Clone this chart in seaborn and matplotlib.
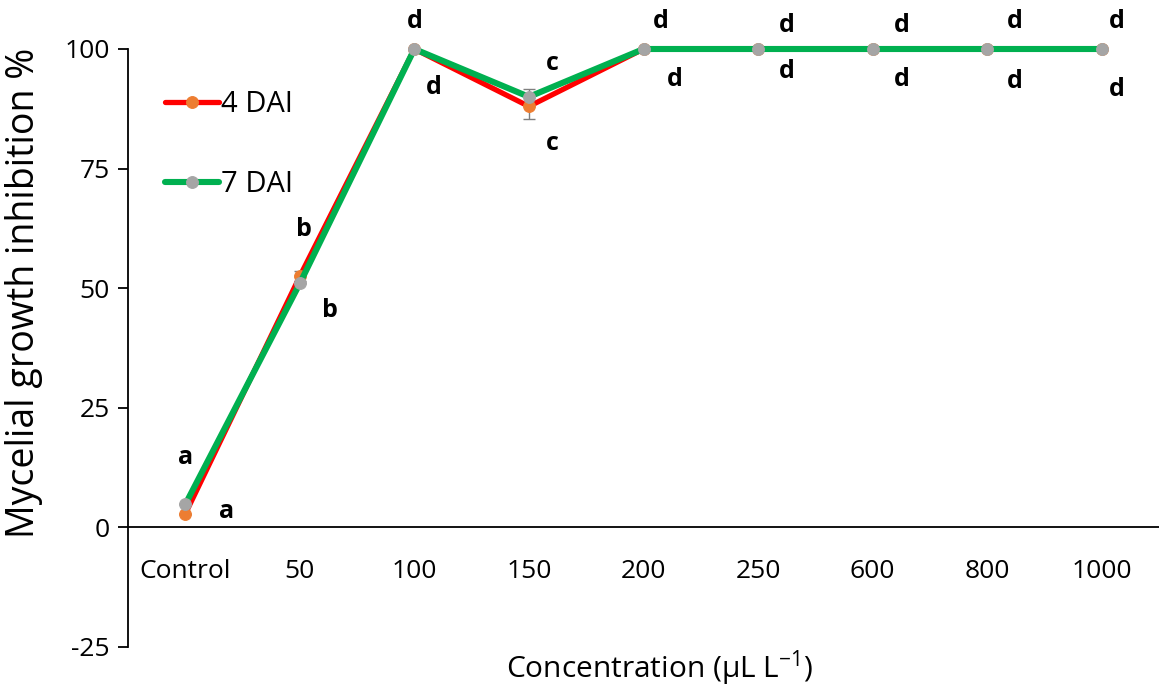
import pandas as pd
import matplotlib.pyplot as plt
import seaborn as sns
from matplotlib.ticker import FixedLocator, NullFormatter

# data
concentrations = ['Control', '50', '100', '150', '200', '250', '600', '800', '1000']
dai4 = [2.8, 52.5, 100, 88, 100, 100, 100, 100, 100]
dai4_err = [0, 1.0, 0, 2.6, 0, 0, 0, 0, 0]
dai7 = [4.8, 51, 100, 90, 100, 100, 100, 100, 100]
dai7_err = [0, 0, 0, 1.6, 0, 0, 0, 0, 0]
letters4 = ['a', 'b', 'd', 'c', 'd', 'd', 'd', 'd', 'd']
letters7 = ['a', 'b', 'd', 'c', 'd', 'd', 'd', 'd', 'd']

# label offsets in pixels (dx, dy) from each point
off7 = [(0, 47), (4, 54), (0, 27), (23, 33), (17, 27), (29, 24), (29, 24), (28, 27), (15, 27)]
off4 = [(41, 3), (30, -34), (19, -39), (23, -37), (31, -30), (29, -23), (29, -30), (28, -33), (15, -41)]

pos = list(range(len(concentrations)))
df = pd.DataFrame({'pos': pos, 'dai4': dai4, 'dai7': dai7})

sns.set_style('white')
plt.rcParams['font.family'] = ['Open Sans', 'DejaVu Sans']
plt.rcParams['text.color'] = 'black'
plt.rcParams['axes.labelcolor'] = 'black'
plt.rcParams['xtick.color'] = 'black'
plt.rcParams['ytick.color'] = 'black'
plt.rcParams['axes.unicode_minus'] = False
plt.rcParams['mathtext.default'] = 'regular'

fig = plt.figure(figsize=(11.59, 6.91), dpi=100)
ax = fig.add_axes([128 / 1159, 1 - 647 / 691, 1 - 128 / 1159, (647 - 49) / 691])

ax.errorbar(pos, dai4, yerr=dai4_err, fmt='none', ecolor='#7f7f7f', capsize=4, elinewidth=1, zorder=1)
ax.errorbar(pos, dai7, yerr=dai7_err, fmt='none', ecolor='#7f7f7f', capsize=4, elinewidth=1, zorder=1)

sns.lineplot(data=df, x='pos', y='dai4', ax=ax, color='#FF0000', lw=3.8, marker='o', markersize=8.5,
             markerfacecolor='#ED7D31', markeredgecolor='#ED7D31', label='4 DAI', clip_on=False,
             solid_capstyle='round', zorder=3)
sns.lineplot(data=df, x='pos', y='dai7', ax=ax, color='#00B050', lw=4.4, marker='o', markersize=8.5,
             markerfacecolor='#A5A5A5', markeredgecolor='#A5A5A5', label='7 DAI', clip_on=False,
             solid_capstyle='round', zorder=4)

px = 0.72  # points per pixel at dpi 100
for i in pos:
    ax.annotate(letters7[i], (i, dai7[i]), xytext=(off7[i][0] * px, off7[i][1] * px),
                textcoords='offset points', ha='center', va='center', fontsize=18,
                fontweight='bold', annotation_clip=False)
    ax.annotate(letters4[i], (i, dai4[i]), xytext=(off4[i][0] * px, off4[i][1] * px),
                textcoords='offset points', ha='center', va='center', fontsize=18,
                fontweight='bold', annotation_clip=False)

ax.set_xlim(-0.5, len(concentrations) - 0.5)
ax.set_ylim(-25, 100)
ax.set_yticks([-25, 0, 25, 50, 75, 100])
ax.set_xticks(pos)
ax.set_xticklabels(concentrations)
ax.xaxis.set_minor_locator(FixedLocator([p + 0.5 for p in pos[:-1]]))
ax.xaxis.set_minor_formatter(NullFormatter())
ax.tick_params(axis='x', which='major', length=0, pad=23, labelsize=19)
ax.tick_params(axis='x', which='minor', length=7, width=1.3, direction='out', color='black')
ax.tick_params(axis='y', length=7, width=1.3, direction='out', color='black', labelsize=19, left=True, pad=6)

ax.spines['top'].set_visible(False)
ax.spines['right'].set_visible(False)
ax.spines['bottom'].set_position(('data', 0))
for s in ['left', 'bottom']:
    ax.spines[s].set_color('black')
    ax.spines[s].set_linewidth(1.3)

ax.set_xlabel('Concentration (μL L$^{-1}$)', fontsize=21.5)
ax.xaxis.set_label_coords(0.516, -0.002)
ax.set_ylabel('Mycelial growth inhibition %', fontsize=27)
ax.yaxis.set_label_coords(-0.082, 0.592)

leg = ax.legend(loc='upper left', bbox_to_anchor=(0.01, 0.975), frameon=False, fontsize=21,
                labelspacing=1.75, handlelength=1.85, handletextpad=0.1)

fig.savefig('out.png', dpi=100)
